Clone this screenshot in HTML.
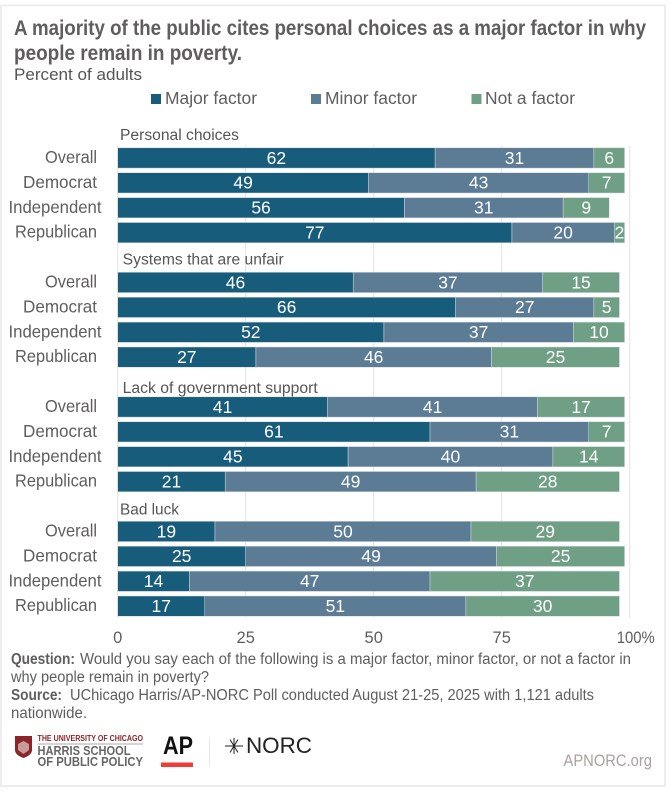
<!DOCTYPE html>
<html lang="en">
<head>
<meta charset="utf-8">
<title>Personal choices and poverty chart</title>
<style>
html,body{margin:0;padding:0;background:#fff;width:671px;height:792px;overflow:hidden}
svg{display:block;font-family:"Liberation Sans",sans-serif}
</style>
</head>
<body>
<svg id="chart" xmlns="http://www.w3.org/2000/svg" width="671" height="792" viewBox="0 0 671 792">
  <rect x="1" y="5.5" width="664" height="780.5" fill="#fff" stroke="#ededed" stroke-width="2"/>
  <text x="14" y="35" font-size="21" font-weight="700" fill="#5f5d5d" textLength="632" lengthAdjust="spacingAndGlyphs">A majority of the public cites personal choices as a major factor in why</text>
  <text x="14" y="60" font-size="21" font-weight="700" fill="#5f5d5d" textLength="228" lengthAdjust="spacingAndGlyphs">people remain in poverty.</text>
  <text x="14" y="80" font-size="17" fill="#555" textLength="128" lengthAdjust="spacingAndGlyphs">Percent of adults</text>

  <g id="legend">
    <g>
      <rect x="151" y="94" width="10" height="10" fill="#185c7c"/>
      <text x="165" y="104" font-size="17.5" fill="#5f5d5d" textLength="92" lengthAdjust="spacingAndGlyphs">Major factor</text>
    </g>
    <g>
      <rect x="311" y="94" width="10" height="10" fill="#5b7c94"/>
      <text x="325" y="104" font-size="17.5" fill="#5f5d5d" textLength="92" lengthAdjust="spacingAndGlyphs">Minor factor</text>
    </g>
    <g>
      <rect x="471.5" y="94" width="10" height="10" fill="#6f9f84"/>
      <text x="485" y="104" font-size="17.5" fill="#5f5d5d" textLength="90" lengthAdjust="spacingAndGlyphs">Not a factor</text>
    </g>
  </g>

  <g id="grid"></g>
  <g id="bars"></g>
  <g id="axis"></g>

  <g font-size="15.5" fill="#5f5d5d">
    <text x="11" y="664" font-weight="700" textLength="64" lengthAdjust="spacingAndGlyphs">Question:</text>
    <text x="80" y="664" textLength="551" lengthAdjust="spacingAndGlyphs">Would you say each of the following is a major factor, minor factor, or not a factor in</text>
    <text x="11" y="682" textLength="198" lengthAdjust="spacingAndGlyphs">why people remain in poverty?</text>
    <text x="11" y="700" font-weight="700" textLength="51" lengthAdjust="spacingAndGlyphs">Source:</text>
    <text x="70" y="700" textLength="524" lengthAdjust="spacingAndGlyphs">UChicago Harris/AP-NORC Poll conducted August 21-25, 2025 with 1,121 adults</text>
    <text x="11" y="718" textLength="76" lengthAdjust="spacingAndGlyphs">nationwide.</text>
  </g>

  <g>
    <path d="M15 736H32V750Q32 755 23.5 758Q15 755 15 750Z" fill="#8a2528"/>
    <path d="M18 744L23.5 741L29 744V750L23.5 754L18 750Z" fill="#c99a9a"/>
    <text x="37.5" y="741" font-size="8" font-weight="700" fill="#8a2528" textLength="105.5" lengthAdjust="spacingAndGlyphs">THE UNIVERSITY OF CHICAGO</text>
    <rect x="37.5" y="743.5" width="105.5" height="1" fill="#aaa"/>
    <text x="37.5" y="755" font-size="12.5" font-weight="700" fill="#666" textLength="93" lengthAdjust="spacingAndGlyphs">HARRIS SCHOOL</text>
    <text x="37.5" y="766" font-size="12.5" font-weight="700" fill="#666" textLength="105.5" lengthAdjust="spacingAndGlyphs">OF PUBLIC POLICY</text>
  </g>
  <g>
    <text x="163" y="754" font-size="25" font-weight="700" fill="#111" textLength="30" lengthAdjust="spacingAndGlyphs">AP</text>
    <rect x="161" y="762.5" width="32" height="4.5" fill="#f33a36"/>
  </g>
  <rect x="209" y="737" width="1" height="30" fill="#e8e8e8"/>
  <g>
    <path d="M225 746H243M234 738L234 754M230 739.5L238 752.5M238 739.5L230 752.5" stroke="#222" stroke-width="1"/>
    <text x="246" y="753" font-size="22" fill="#222" textLength="66" lengthAdjust="spacingAndGlyphs">NORC</text>
  </g>
  <text x="563.5" y="766" font-size="16.5" font-weight="400" fill="#a8a39f" textLength="88.5" lengthAdjust="spacingAndGlyphs">APNORC.org</text>
</svg>
<script>
const groupTitles = ["Personal choices", "Systems that are unfair", "Lack of government support", "Bad luck"];
const partyLabels = ["Overall", "Democrat", "Independent", "Republican"];
const majorValues = [62, 49, 56, 77, 46, 66, 52, 27, 41, 61, 45, 21, 19, 25, 14, 17];
const minorValues = [31, 43, 31, 20, 37, 27, 37, 46, 41, 31, 40, 49, 50, 49, 47, 51];
const notValues = [6, 7, 9, 2, 15, 5, 10, 25, 17, 7, 14, 28, 29, 25, 37, 30];
const tickValues = [0, 25, 50, 75, 100];
const tickLabels = ["0", "25", "50", "75", "100%"];

const NS = "http://www.w3.org/2000/svg";
const xScale = v => 117.7 + v * 5.12;
const yScale = rowIndex => 147.8 + rowIndex * 24.9;
const rowOf = i => i + Math.floor(i / 4);
const BAR_H = 20.3;
const gridEl = document.getElementById("grid");
const barsEl = document.getElementById("bars");
const axisEl = document.getElementById("axis");

function make(parent, tag, attrs, txt) {
  const el = document.createElementNS(NS, tag);
  for (const k in attrs) el.setAttribute(k, attrs[k]);
  if (txt !== undefined) el.textContent = txt;
  parent.appendChild(el);
  return el;
}

tickValues.forEach((t, i) => {
  const line = make(gridEl, "line", {x1: xScale(t), x2: xScale(t), y1: 145.5, y2: 618, stroke: "#e2e2e2", "stroke-width": 1});
  
  
  const last = i === tickValues.length - 1;
  const label = make(axisEl, "text", {x: last ? xScale(t) - 13 : xScale(t), y: 643, "font-size": 16.5, fill: "#5f5d5d", "text-anchor": last ? "start" : "middle"}, tickLabels[i]);
  
  
  if (last) label.setAttribute('textLength', '38');
  if (last) label.setAttribute('lengthAdjust', 'spacingAndGlyphs');
});

const headerOffsets = [2.3, 5, 5, 2.3];
const headerBaselines = [140, 264.5, 393, 514.5];
const headerWidths = [119, 161, 195, 59];
groupTitles.forEach((title, g) => {
  const header = make(barsEl, "text", {x: 117.7 + headerOffsets[g], y: headerBaselines[g], "font-size": 15.5, fill: "#555", textLength: headerWidths[g], lengthAdjust: "spacingAndGlyphs"}, title);
  
  
});

const labelWidths = {Overall: 52, Democrat: 74, Independent: 93, Republican: 82};
majorValues.forEach((major, i) => {
  const y = yScale(rowOf(i));
  const party = partyLabels[i % 4];
  const isInd = party === "Independent";
  const cat = make(barsEl, "text", {x: isInd ? 101.5 : 97, y: y + 15.2, "font-size": 17.5, fill: "#5f5d5d", "text-anchor": "end", textLength: labelWidths[party], lengthAdjust: "spacingAndGlyphs"}, party);
  
  
  const segs = [[major, "#185c7c"], [minorValues[i], "#5b7c94"], [notValues[i], "#6f9f84"]];
  let cum = 0;
  segs.forEach(seg => {
    const x0 = xScale(cum), x1 = xScale(cum + seg[0]);
    const r = make(barsEl, "rect", {x: x0, y: y, width: x1 - x0, height: BAR_H, fill: seg[1], stroke: "#d5dde0", "stroke-width": 0.5});
    
    
    const t = make(barsEl, "text", {x: (x0 + x1) / 2, y: y + 16, "font-size": 17.5, fill: "#fff", "text-anchor": "middle"}, String(seg[0]));
    
    
    cum += seg[0];
  });
});
</script>
</body>
</html>
